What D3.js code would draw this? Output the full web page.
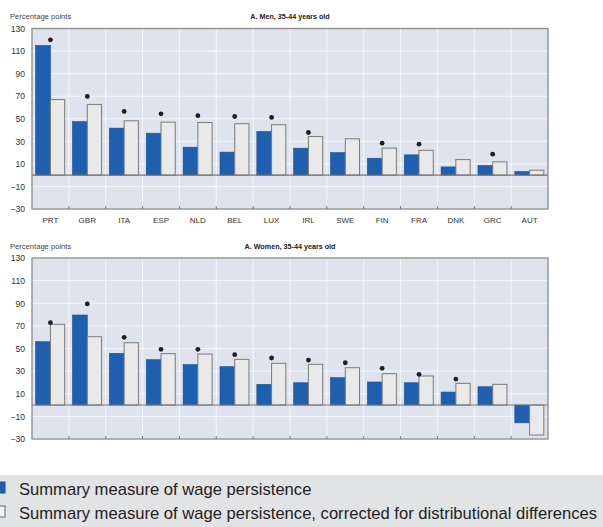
<!DOCTYPE html>
<html>
<head>
<meta charset="utf-8">
<script src="https://cdn.jsdelivr.net/npm/d3@7"></script>
<style>
  html, body { margin: 0; padding: 0; background: #fff; }
  svg { display: block; }
  text { font-family: "Liberation Sans Narrow", "Arial Narrow", "Liberation Sans", sans-serif; }
</style>
</head>
<body>
<svg id="chart" width="603" height="527"></svg>
<script>
// Countries, in the order shown on both panels
const countries = ["PRT","GBR","ITA","ESP","NLD","BEL","LUX","IRL","SWE","FIN","FRA","DNK","GRC","AUT"];

// Men, 35-44 years old
const menRaw       = [115, 47.5, 41.7, 37.2, 24.8, 20.4, 38.7, 23.9, 20, 15, 18, 7.3, 8.5, 3.2];
const menCorrected = [67, 62.7, 48.2, 47, 46.7, 45.6, 44.7, 34.3, 32.2, 24, 22, 13.8, 11.8, 4.4];
const menStars     = [120, 69.8, 56.5, 54.4, 52.7, 52, 51.2, 37.8, null, 28.3, 27.5, null, 18.6, null];

// Women, 35-44 years old
const womenRaw       = [56, 79.6, 45.7, 40.1, 35.7, 33.9, 18.3, 19.7, 24.2, 20.4, 19.7, 11.5, 16.2, -15.7];
const womenCorrected = [71.4, 60.4, 55.1, 45.4, 45.1, 40.4, 36.9, 36, 33, 27.7, 25.7, 19.2, 18.3, -26.5];
const womenStars     = [72.8, 89.4, 59.9, 49.3, 49.3, 44.5, 41.6, 39.8, 37.4, 32.5, 27.2, 23, null, null];

const yTicks = [130, 110, 90, 70, 50, 30, 10, -10, -30];
const yDomain = [-30, 130];

const seriesNames = [
  "Summary measure of wage persistence",
  "Summary measure of wage persistence, corrected for distributional differences"
];
const panelTitles = ["A. Men, 35-44 years old", "A. Women, 35-44 years old"];
const unitLabel = "Percentage points";

const colors = { raw: "#1f5fb0", rawStroke: "#1a4f93", corr: "#e9e9e9", corrStroke: "#7a7a7a",
                 plotBg: "#dee3ee", grid: "#f4f6fa", frame: "#8c8c8c", text: "#333" };

const svg = d3.select("#chart");
const plotLeft = 32, plotRight = 548;

const x = d3.scaleBand().domain(countries).range([plotLeft, plotRight])
  .paddingInner(0.2).paddingOuter(0.1);
const xs = d3.scaleBand().domain(["raw","corr"]).range([0, x.bandwidth()]);

function drawPanel(top, bottom, title, raw, corr, stars, showLabels) {
  const g = svg.append("g");
  const y = d3.scaleLinear().domain(yDomain).range([bottom, top]);
  const step = x.step();
  const boundaries = d3.range(countries.length + 1).map(i => plotLeft + i * step);

  // header texts
  g.append("text").attr("x", 10).attr("y", top - 9.5)
    .attr("font-size", 7.6).attr("fill", "#444").text(unitLabel);
  g.append("text").attr("x", (plotLeft + plotRight) / 2).attr("y", top - 9.5)
    .attr("text-anchor", "middle").attr("font-size", 7.2).attr("font-weight", "bold")
    .attr("fill", "#222").text(title);

  // plot background
  g.append("rect").attr("x", plotLeft).attr("y", top)
    .attr("width", plotRight - plotLeft).attr("height", bottom - top)
    .attr("fill", colors.plotBg);

  // gridlines
  g.selectAll(".hg").data(yTicks).join("line")
    .attr("x1", plotLeft).attr("x2", plotRight)
    .attr("y1", d => y(d)).attr("y2", d => y(d))
    .attr("stroke", colors.grid).attr("stroke-width", 1);
  g.selectAll(".vg").data(boundaries.slice(1, -1)).join("line")
    .attr("x1", d => d).attr("x2", d => d)
    .attr("y1", top).attr("y2", bottom)
    .attr("stroke", colors.grid).attr("stroke-width", 1);

  // y-axis labels
  const yAxis = d3.axisLeft(y).tickValues(yTicks).tickSize(0).tickPadding(7)
    .tickFormat(d => d < 0 ? "\u2212" + Math.abs(d) : d);
  const ya = g.append("g").attr("transform", `translate(${plotLeft},0)`).call(yAxis);
  ya.select(".domain").remove();
  ya.selectAll("text").attr("font-size", 8.6).attr("fill", colors.text)
    .style("font-family", "'Liberation Sans Narrow', 'Arial Narrow', sans-serif");

  // bars
  const rows = countries.map((c, i) => ({ c, raw: raw[i], corr: corr[i], star: stars[i] }));
  const grp = g.selectAll(".grp").data(rows).join("g")
    .attr("transform", d => `translate(${x(d.c)},0)`);
  grp.append("rect")
    .attr("x", xs("raw")).attr("width", xs.bandwidth())
    .attr("y", d => y(Math.max(0, d.raw))).attr("height", d => Math.abs(y(d.raw) - y(0)))
    .attr("fill", colors.raw).attr("stroke", colors.rawStroke).attr("stroke-width", 0.6);
  grp.append("rect")
    .attr("x", xs("corr")).attr("width", xs.bandwidth() - 0.5)
    .attr("y", d => y(Math.max(0, d.corr))).attr("height", d => Math.abs(y(d.corr) - y(0)))
    .attr("fill", colors.corr).attr("stroke", colors.corrStroke).attr("stroke-width", 1);

  // zero line
  g.append("line").attr("x1", plotLeft).attr("x2", plotRight)
    .attr("y1", y(0)).attr("y2", y(0))
    .attr("stroke", "#777").attr("stroke-width", 1.1);

  // significance markers
  g.selectAll(".star").data(rows.filter(d => d.star != null)).join("path")
    .attr("d", d3.symbol().type(d3.symbolCircle).size(18))
    .attr("transform", d => `translate(${x(d.c) + x.bandwidth() / 2},${y(d.star)})`)
    .attr("fill", "#1e1e1e");

  // frame
  g.append("rect").attr("x", plotLeft).attr("y", top)
    .attr("width", plotRight - plotLeft).attr("height", bottom - top)
    .attr("fill", "none").attr("stroke", colors.frame).attr("stroke-width", 1.3);

  // bottom ticks between categories
  g.selectAll(".bt").data(boundaries.slice(1, -1)).join("line")
    .attr("x1", d => d).attr("x2", d => d)
    .attr("y1", bottom - 3).attr("y2", bottom)
    .attr("stroke", "#777").attr("stroke-width", 1);

  if (showLabels) {
    g.selectAll(".cl").data(countries).join("text")
      .attr("x", d => x(d) + x.bandwidth() / 2).attr("y", bottom + 14)
      .attr("text-anchor", "middle").attr("font-size", 8).attr("fill", colors.text)
      .text(d => d);
  }
}

drawPanel(28.5, 209, panelTitles[0], menRaw, menCorrected, menStars, true);
drawPanel(258, 439, panelTitles[1], womenRaw, womenCorrected, womenStars, false);

// legend
const lg = svg.append("g");
lg.append("rect").attr("x", 0).attr("y", 475).attr("width", 603).attr("height", 52)
  .attr("fill", "#e2e3e5");
const legendItems = [
  { name: seriesNames[0], fill: colors.raw, stroke: colors.rawStroke, y: 482 },
  { name: seriesNames[1], fill: "#f2f2f2", stroke: "#666", y: 506 }
];
lg.selectAll(".sw").data(legendItems).join("rect")
  .attr("x", -1).attr("y", d => d.y).attr("width", 6).attr("height", 11)
  .attr("fill", d => d.fill).attr("stroke", d => d.stroke).attr("stroke-width", 1);
lg.selectAll(".lt").data(legendItems).join("text")
  .attr("x", 19).attr("y", d => d.y + 13)
  .attr("font-size", 16.6).attr("fill", "#222")
  .text(d => d.name);
</script>
</body>
</html>
